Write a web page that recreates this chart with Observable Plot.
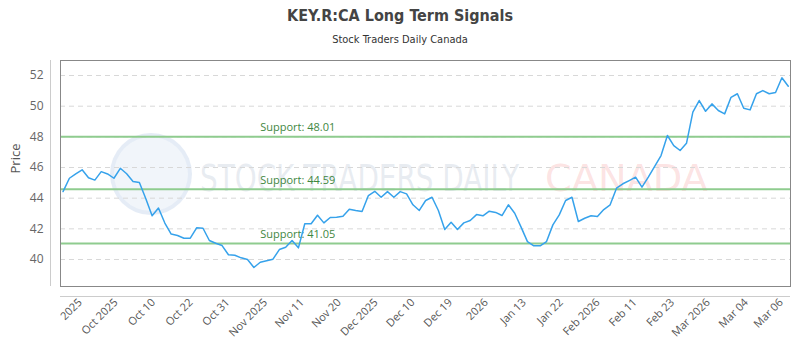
<!DOCTYPE html>
<html><head><meta charset="utf-8">
<script src="https://cdn.jsdelivr.net/npm/d3@7"></script>
<script src="https://cdn.jsdelivr.net/npm/@observablehq/plot@0.6"></script>
<style>
body{margin:0;background:#fff;}
#wrap{position:relative;width:800px;height:350px;overflow:hidden;font-family:"Open Sans",sans-serif;}
#title{position:absolute;top:6px;left:0;width:800px;text-align:center;font-family:"DejaVu Sans Condensed","DejaVu Sans",sans-serif;font-stretch:condensed;font-weight:bold;font-size:16px;color:#444;}
#sub{position:absolute;top:33px;left:0;width:800px;text-align:center;font-family:"DejaVu Sans Condensed","DejaVu Sans",sans-serif;font-stretch:condensed;font-size:11px;color:#333;}
#wm-circle{position:absolute;left:110px;top:133px;width:82px;height:82px;border-radius:50%;background:rgba(210,222,240,0.3);border:4px solid rgba(215,226,242,0.45);box-sizing:border-box;}
.wm{position:absolute;top:158px;font-family:"DejaVu Sans Condensed","DejaVu Sans",sans-serif;font-size:38px;line-height:40px;white-space:nowrap;transform-origin:0 0;}
#wm-a{left:200px;color:rgba(190,200,215,0.35);transform:scaleX(0.815);}
#wm-b{left:545px;color:rgba(245,160,160,0.3);transform:scaleX(1.12);}
#chart{position:absolute;top:50px;left:0;}
#chart svg{background:transparent;}
</style></head>
<body>
<div id="wrap">
  <div id="wm-circle"></div>
  <div class="wm" id="wm-a">STOCK TRADERS DAILY</div>
  <div class="wm" id="wm-b">CANADA</div>
  <div id="title">KEY.R:CA Long Term Signals</div>
  <div id="sub">Stock Traders Daily Canada</div>
  <div id="chart"></div>
</div>
<script>
const prices = [44.43,45.30,45.59,45.85,45.33,45.18,45.73,45.58,45.30,45.95,
45.59,45.09,45.02,43.98,42.85,43.36,42.38,41.66,41.57,41.39,
41.39,42.07,42.04,41.24,41.06,40.91,40.31,40.28,40.11,40.00,
39.48,39.82,39.92,40.02,40.65,40.80,41.24,40.76,42.33,42.33,
42.89,42.39,42.74,42.76,42.82,43.28,43.20,43.13,44.17,44.45,
44.06,44.43,44.06,44.43,44.28,43.57,43.20,43.85,44.06,43.20,
41.96,42.43,41.96,42.39,42.54,42.93,42.85,43.15,43.07,42.87,
43.57,43.02,42.11,41.17,40.89,40.89,41.17,42.26,42.91,43.85,
44.06,42.48,42.69,42.85,42.80,43.26,43.57,44.65,44.94,45.15,
45.37,44.72,45.37,46.07,46.78,48.09,47.43,47.11,47.58,49.61,
50.37,49.67,50.15,49.72,49.50,50.58,50.81,49.87,49.76,50.81,
51.02,50.81,50.89,51.85,51.30];
const supportLevels = [48.01, 44.59, 41.05];
const supportLabels = ["Support: 48.01", "Support: 44.59", "Support: 41.05"];
const yTicks = [40, 42, 44, 46, 48, 50, 52];
const tickLabels = ["2025","Oct 2025","Oct 10","Oct 22","Oct 31","Nov 2025","Nov 11","Nov 20","Dec 2025","Dec 10",
"Dec 19","2026","Jan 13","Jan 22","Feb 2026","Feb 11","Feb 23","Mar 2026","Mar 04","Mar 06"];
const tickPos = [2.7,8.3,14.2,20.1,25.9,31.8,37.6,43.4,49.2,55.0,60.9,66.5,72.5,78.3,84.1,89.9,95.8,101.4,107.4,112.9];

const idx = prices.map((d, i) => i);
const chart = Plot.plot({
  width: 800, height: 300,
  marginTop: 10, marginBottom: 64, marginLeft: 60, marginRight: 10,
  style: {background: "transparent", fontFamily: "Open Sans, sans-serif"},
  x: {domain: [-0.4, 114.35], axis: null},
  y: {domain: [38.24, 52.98], axis: null},
  marks: [
    Plot.gridY(yTicks, {stroke: "#d8d8d8", strokeOpacity: 1, strokeDasharray: "5,4"}),
    Plot.ruleY(supportLevels, {stroke: "#8fcc8f", strokeWidth: 2}),
    Plot.text(supportLabels, {x: 31.0, y: (d, i) => supportLevels[i], dy: -9, textAnchor: "start", fill: "#3f873f", fontSize: 11}),
    Plot.line(idx, {x: d => d, y: d => prices[d], stroke: "#36a2eb", strokeWidth: 1.5}),
    Plot.frame({stroke: "#888"}),
    Plot.ruleX([-0.4], {dx: -10, stroke: "#ccc"}),
    Plot.ruleY([38.24], {dy: 10, stroke: "#ccc"}),
    Plot.axisY(yTicks, {tickSize: 0, tickPadding: 17, fontSize: 12, color: "#666", label: null}),
    Plot.text(["Price"], {frameAnchor: "left", dx: -45, rotate: -90, fontSize: 13, fill: "#555"}),
    Plot.axisX(tickPos, {tickSize: 0, tickPadding: 14, tickRotate: -45, fontSize: 11, color: "#555",
      tickFormat: (d, i) => tickLabels[i], label: null})
  ]
});
document.getElementById("chart").appendChild(chart);
</script>
</body></html>
